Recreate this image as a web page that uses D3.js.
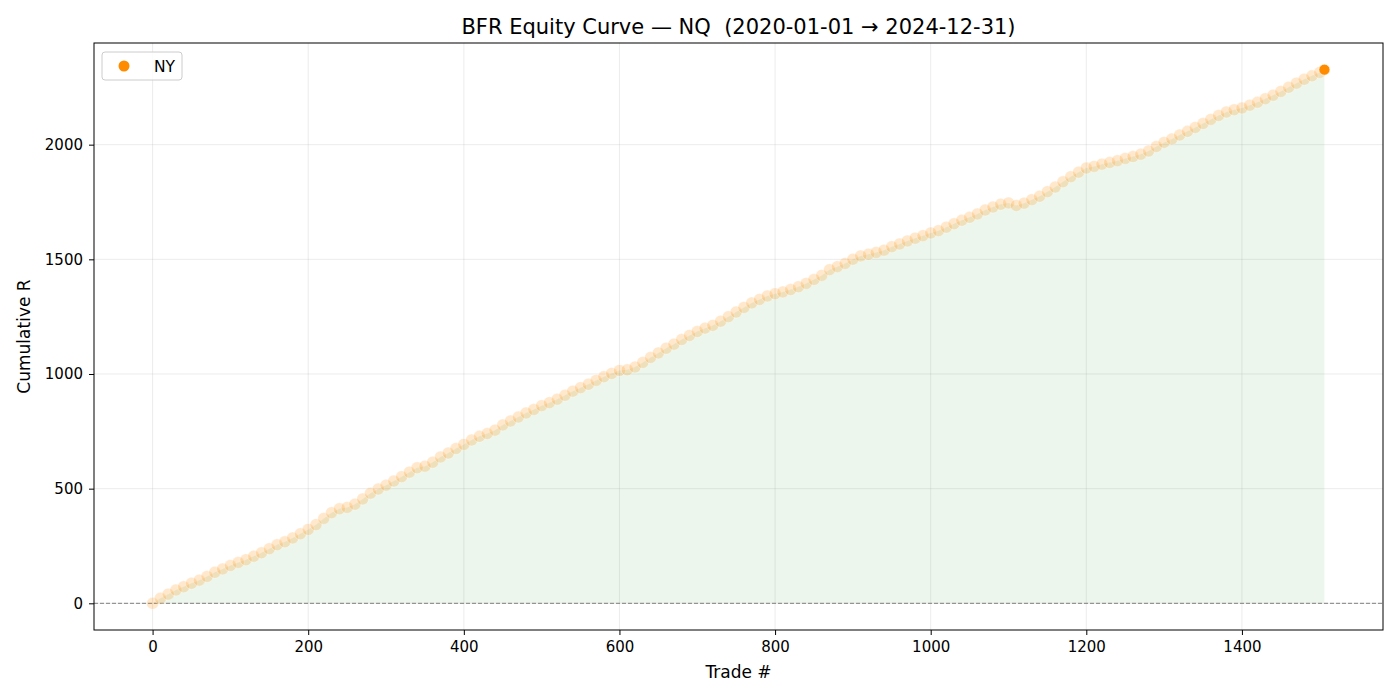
<!DOCTYPE html>
<html>
<head>
<meta charset="utf-8">
<script src="https://cdn.jsdelivr.net/npm/d3@7"></script>
<style>
  body { margin: 0; background: #fff; }
  text { font-family: "DejaVu Sans", sans-serif; }
</style>
</head>
<body>
<div id="equity-chart"></div>
<script>
const tradeStep = 10;
const lastTrade = 1506;
const cumR = [
    0, 22, 40, 58, 72, 87, 101, 117, 135, 150,
    165, 178, 190, 205, 220, 238, 255, 268, 285, 303,
    322, 343, 370, 395, 412, 418, 432, 455, 480, 498,
    515, 533, 552, 572, 591, 598, 615, 638, 655, 675,
    693, 712, 728, 740, 755, 778, 795, 812, 830, 845,
    862, 875, 890, 907, 925, 940, 955, 972, 988, 1002,
    1015, 1018, 1030, 1050, 1072, 1092, 1112, 1130, 1150, 1168,
    1185, 1200, 1212, 1230, 1250, 1270, 1290, 1310, 1325, 1340,
    1350, 1358, 1368, 1380, 1395, 1412, 1430, 1455, 1468, 1482,
    1500, 1515, 1522, 1530, 1540, 1555, 1567, 1580, 1592, 1603,
    1615, 1625, 1640, 1655, 1670, 1683, 1698, 1715, 1728, 1740,
    1746, 1735, 1745, 1760, 1775, 1795, 1815, 1838, 1860, 1880,
    1898, 1905, 1915, 1922, 1930, 1940, 1948, 1958, 1972, 1992,
    2010, 2025, 2042, 2058, 2075, 2092, 2110, 2127, 2142, 2152,
    2160, 2172, 2185, 2200, 2215, 2232, 2250, 2268, 2285, 2300,
    2315, 2327
];
const xTicks = [0, 200, 400, 600, 800, 1000, 1200, 1400];
const yTicks = [0, 500, 1000, 1500, 2000];
const sessionName = 'NY';
const chartTitle = 'BFR Equity Curve \u2014 NQ  (2020-01-01 \u2192 2024-12-31)';

const data = cumR.map((r, i) => ({
    trade: i === cumR.length - 1 ? lastTrade : i * tradeStep,
    r: r
}));

const width = 1400;
const height = 700;
const margin = { top: 43, right: 17, bottom: 70, left: 94 };
const w = width - margin.left - margin.right;
const h = height - margin.top - margin.bottom;

const svg = d3.select('#equity-chart')
    .append('svg')
    .attr('width', width)
    .attr('height', height);

svg.append('text')
    .attr('x', margin.left + w / 2)
    .attr('y', 34)
    .attr('text-anchor', 'middle')
    .attr('font-size', 21)
    .style('white-space', 'pre')
    .text(chartTitle);

const g = svg.append('g')
    .attr('transform', `translate(${margin.left},${margin.top})`);

// matplotlib style 5% padding
const xPad = lastTrade * 0.05;
const yMax = d3.max(cumR);
const yPad = yMax * 0.05;

const x = d3.scaleLinear()
    .domain([-xPad, lastTrade + xPad])
    .range([0, w]);

const y = d3.scaleLinear()
    .domain([-yPad, yMax + yPad])
    .range([h, 0]);

// grid
g.append('g')
    .selectAll('line')
    .data(xTicks)
    .enter().append('line')
    .attr('x1', d => x(d)).attr('x2', d => x(d))
    .attr('y1', 0).attr('y2', h)
    .attr('stroke', '#b0b0b0')
    .attr('stroke-opacity', 0.3)
    .attr('stroke-width', 0.8);

g.append('g')
    .selectAll('line')
    .data(yTicks)
    .enter().append('line')
    .attr('x1', 0).attr('x2', w)
    .attr('y1', d => y(d)).attr('y2', d => y(d))
    .attr('stroke', '#b0b0b0')
    .attr('stroke-opacity', 0.3)
    .attr('stroke-width', 0.8);

// fill under the curve
const area = d3.area()
    .x(d => x(d.trade))
    .y0(y(0))
    .y1(d => y(d.r));

g.append('path')
    .datum(data)
    .attr('d', area)
    .attr('fill', '#008000')
    .attr('fill-opacity', 0.075);

// zero line
g.append('line')
    .attr('x1', 0).attr('x2', w)
    .attr('y1', y(0)).attr('y2', y(0))
    .attr('stroke', '#808080')
    .attr('stroke-width', 1)
    .attr('stroke-dasharray', '4,2');

// trade markers
g.append('g')
    .selectAll('circle')
    .data(data.slice(0, -1))
    .enter().append('circle')
    .attr('cx', d => x(d.trade))
    .attr('cy', d => y(d.r))
    .attr('r', 6)
    .attr('fill', '#ff8c00')
    .attr('fill-opacity', 0.2)
    .attr('stroke', '#fff')
    .attr('stroke-opacity', 0.6)
    .attr('stroke-width', 0.6);

const last = data[data.length - 1];
g.append('circle')
    .attr('cx', x(last.trade))
    .attr('cy', y(last.r))
    .attr('r', 5.5)
    .attr('fill', '#ff8c00')
    .attr('stroke', '#fff')
    .attr('stroke-width', 0.6);

// frame
g.append('rect')
    .attr('width', w)
    .attr('height', h)
    .attr('fill', 'none')
    .attr('stroke', '#000')
    .attr('stroke-width', 1);

// axes
const xAxis = g.append('g')
    .attr('transform', `translate(0,${h})`)
    .call(d3.axisBottom(x).tickValues(xTicks).tickFormat(d3.format('d')).tickSize(5).tickPadding(6));

const yAxis = g.append('g')
    .call(d3.axisLeft(y).tickValues(yTicks).tickFormat(d3.format('d')).tickSize(5).tickPadding(6));

[xAxis, yAxis].forEach(a => {
    a.select('.domain').remove();
    a.selectAll('text')
        .attr('font-size', 15)
        .attr('font-family', '"DejaVu Sans", sans-serif')
        .attr('fill', '#000');
    a.selectAll('line').attr('stroke', '#000');
});

svg.append('text')
    .attr('x', margin.left + w / 2)
    .attr('y', 678)
    .attr('text-anchor', 'middle')
    .attr('font-size', 17)
    .text('Trade #');

svg.append('text')
    .attr('transform', `translate(30,${margin.top + h / 2}) rotate(-90)`)
    .attr('text-anchor', 'middle')
    .attr('font-size', 17)
    .text('Cumulative R');

// legend
const legend = g.append('g')
    .attr('transform', 'translate(8,9)');

legend.append('rect')
    .attr('width', 80)
    .attr('height', 28)
    .attr('rx', 3)
    .attr('fill', '#fff')
    .attr('fill-opacity', 0.8)
    .attr('stroke', '#cccccc');

legend.append('circle')
    .attr('cx', 22)
    .attr('cy', 14)
    .attr('r', 5.5)
    .attr('fill', '#ff8c00');

legend.append('text')
    .attr('x', 52)
    .attr('y', 19.5)
    .attr('font-size', 15.5)
    .text(sessionName);
</script>
</body>
</html>
